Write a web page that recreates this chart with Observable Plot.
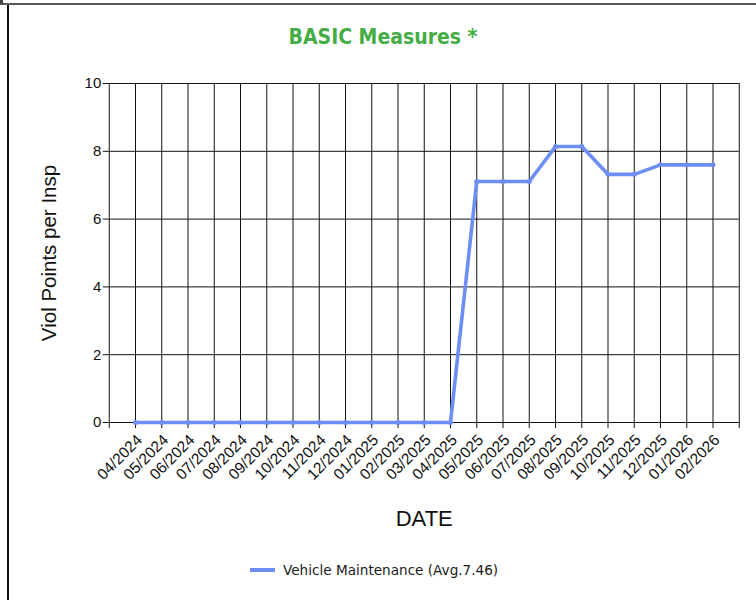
<!DOCTYPE html>
<html>
<head>
<meta charset="utf-8">
<script src="https://cdn.jsdelivr.net/npm/d3@7"></script>
<script src="https://cdn.jsdelivr.net/npm/@observablehq/plot@0.6"></script>
<style>
  html, body { margin: 0; padding: 0; background: #fff; }
  body { width: 756px; height: 600px; position: relative; overflow: hidden; font-family: "Liberation Sans", Arial, sans-serif; }
  #topline { position: absolute; left: 0; top: 3px; width: 756px; height: 2px; background: #5a5a5a; }
  #corner { position: absolute; left: 0; top: 0; width: 3px; height: 4px; background: #444; }
  #leftline { position: absolute; left: 7px; top: 5px; width: 2px; height: 600px; background: #111; }
  #title { position: absolute; left: 0; width: 766px; top: 25px; text-align: center; color: #45ad45; font-family: "DejaVu Sans Condensed", "DejaVu Sans", sans-serif; font-weight: bold; font-size: 21px; }
  #chart { position: absolute; left: 0; top: 0; }
  #legend { position: absolute; left: 250px; top: 562px; display: flex; align-items: center; font-family: "DejaVu Sans", sans-serif; font-size: 13.6px; color: #1a1a1a; }
  #legend .sw { width: 25px; height: 3.5px; background: #6d8ef2; margin-right: 8px; }
</style>
</head>
<body>
<div id="topline"></div>
<div id="corner"></div>
<div id="leftline"></div>
<div id="chart"></div>
<div id="title">BASIC Measures *</div>
<div id="legend"><div class="sw"></div><span>Vehicle Maintenance (Avg.7.46)</span></div>
<script>
const months = ["04/2024","05/2024","06/2024","07/2024","08/2024","09/2024","10/2024","11/2024","12/2024","01/2025","02/2025","03/2025","04/2025","05/2025","06/2025","07/2025","08/2025","09/2025","10/2025","11/2025","12/2025","01/2026","02/2026"];
const values = [0,0,0,0,0,0,0,0,0,0,0,0,0,7.11,7.11,7.11,8.14,8.14,7.32,7.32,7.6,7.6,7.6];
const yTicks = [0,2,4,6,8,10];
const seriesName = "Vehicle Maintenance (Avg.7.46)";

const data = months.map((m, i) => ({month: m, pos: i + 1, value: values[i]}));
const gridX = d3.range(0, months.length + 2);
const lineColor = "#6d8ef2";

const chart = Plot.plot({
  width: 756,
  height: 545,
  marginTop: 83,
  marginBottom: 123,
  marginLeft: 108.75,
  marginRight: 17.25,
  style: {fontFamily: "Liberation Sans, Arial, sans-serif", background: "transparent"},
  x: {domain: [0, months.length + 1], axis: null},
  y: {domain: [0, 10], axis: null},
  marks: [
    Plot.ruleX(gridX, {x: d => d, stroke: "#111", strokeWidth: 1}),
    Plot.ruleY(yTicks, {y: d => d, stroke: "#111", strokeWidth: 1}),
    Plot.axisY({ticks: yTicks, tickSize: 6, tickPadding: 2, fontSize: 15, color: "#111", label: null}),
    Plot.axisX({ticks: gridX, tickSize: 6, tickFormat: () => "", label: null, color: "#111"}),
    Plot.text(data, {x: "pos", y: () => 0, text: "month", rotate: -45, textAnchor: "end", lineAnchor: "middle", dx: 4, dy: 15, fontSize: 15.5, fill: "#111"}),
    Plot.line(data, {x: "pos", y: "value", stroke: lineColor, strokeWidth: 3.6, strokeLinejoin: "round"}),
    Plot.dot(data, {x: "pos", y: "value", fill: lineColor, r: 2.5}),
    Plot.text(["Viol Points per Insp"], {frameAnchor: "left", text: d => d, rotate: -90, dx: -60, fontSize: 20.5, fill: "#111", textAnchor: "middle", lineAnchor: "middle"}),
    Plot.text(["DATE"], {frameAnchor: "bottom", text: d => d, dy: 96, fontSize: 22, fill: "#111", textAnchor: "middle", lineAnchor: "middle"})
  ]
});
document.getElementById("chart").appendChild(chart);
</script>
</body>
</html>
